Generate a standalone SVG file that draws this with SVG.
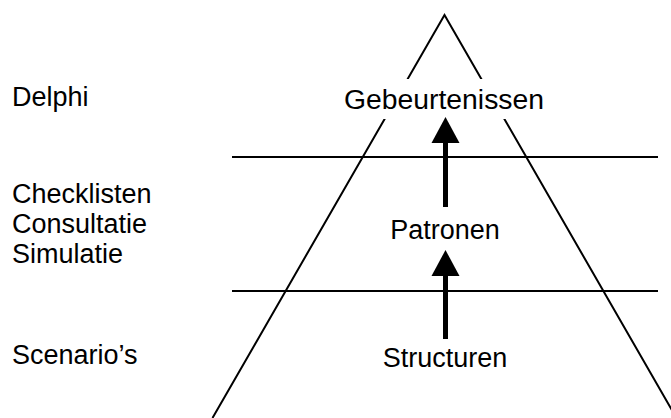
<svg xmlns="http://www.w3.org/2000/svg" width="671" height="418" viewBox="0 0 671 418">
<style>
.t{font-family:"Liberation Sans",Arial,sans-serif;font-size:27px;fill:#000}
.m{text-anchor:middle}
.ln{stroke:#000;stroke-width:2;fill:none}
.sh{stroke:#000;stroke-width:5;fill:none}
.hd{fill:#000}
</style>
<rect width="671" height="418" fill="#fff"/>
<g id="pyramid">
<path class="ln" d="M212.5,418 L444.5,15 L676.5,418"/>
</g>
<g id="dividers">
<line class="ln" x1="232" y1="157" x2="658" y2="157"/>
<line class="ln" x1="232" y1="291" x2="658" y2="291"/>
</g>
<g id="node-gebeurtenissen">
<rect x="338" y="79" width="214" height="40" fill="#fff"/>
<text class="t m" x="444" y="109" textLength="200" lengthAdjust="spacingAndGlyphs">Gebeurtenissen</text>
</g>
<g id="node-patronen">
<text class="t m" x="445" y="239">Patronen</text>
</g>
<g id="node-structuren">
<text class="t m" x="445" y="367">Structuren</text>
</g>
<g id="connectors">
<line class="sh" x1="445.5" y1="142" x2="445.5" y2="207"/>
<polygon class="hd" points="445.5,117 459.5,143 431.5,143"/>
<line class="sh" x1="445.5" y1="275" x2="445.5" y2="339"/>
<polygon class="hd" points="445.5,250 459.5,276 431.5,276"/>
</g>
<g id="methods">
<text class="t" x="12" y="106">Delphi</text>
<text class="t" x="12" y="203">Checklisten</text>
<text class="t" x="12" y="233">Consultatie</text>
<text class="t" x="12" y="263">Simulatie</text>
<text class="t" x="12" y="364">Scenario’s</text>
</g>
</svg>
